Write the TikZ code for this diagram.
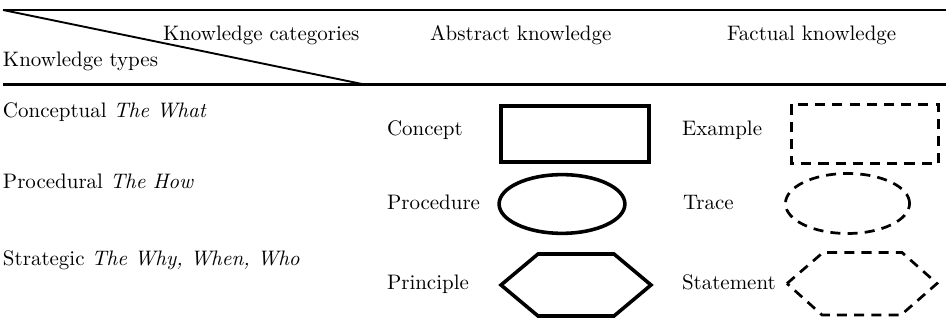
\documentclass[tikz,border=0pt]{standalone}
\begin{document}
\begin{tikzpicture}[x=0.4769pt,y=-0.4769pt,
  rulerline/.style={line width=1pt},
  diagline/.style={line width=0.9pt},
  lbl/.style={anchor=base west, inner sep=0pt, outer sep=0pt},
  abstractshape/.style={line width=1.7pt, line join=miter},
  factualshape/.style={line width=1.3pt, dash pattern=on 4.8pt off 3.4pt},
]
\useasboundingbox (0,0) rectangle (946,329);

% table rules and the split header cell
\coordinate (topL) at (3,10);
\coordinate (topR) at (946,10);
\coordinate (midL) at (3,84.5);
\coordinate (midR) at (946,84.5);
\coordinate (diagEnd) at (362,84);
\draw[rulerline] (topL) -- (topR);
\draw[rulerline] (midL) -- (midR);
\draw[diagline] (topL) -- (diagEnd);

% header texts
\node[lbl] (cats)  at (163,41) {Knowledge categories};
\node[lbl] (types) at (3,67)   {Knowledge types};
\node[lbl] (abs)   at (430,41) {Abstract knowledge};
\node[lbl] (fact)  at (727,41) {Factual knowledge};

% row headings
\node[lbl] (rowC) at (3,118) {Conceptual \textit{The What}};
\node[lbl] (rowP) at (3,189) {Procedural \textit{The How}};
\node[lbl] (rowS) at (3,266) {Strategic \textit{The Why, When, Who}};

% abstract knowledge column
\node[lbl] (concept)   at (387,136) {Concept};
\node[lbl] (procedure) at (387,210) {Procedure};
\node[lbl] (principle) at (387,290) {Principle};
\draw[abstractshape] (501,106) rectangle (649,162);
\draw[abstractshape] (562,204) ellipse [x radius=30.0pt, y radius=14.0pt];
\draw[abstractshape] (501,285) -- (538,254) -- (614,254) -- (651,285)
  -- (614,316) -- (538,316) -- cycle;

% factual knowledge column
\node[lbl] (example)   at (682,136) {Example};
\node[lbl] (trace)     at (683,210) {Trace};
\node[lbl] (statement) at (682,290) {Statement};
\draw[factualshape] (791.5,104.5) rectangle (938.5,163.5);
\draw[factualshape] (847.5,203.5) ellipse [x radius=29.6pt, y radius=14.3pt];
\draw[factualshape] (787,283.5) -- (823,252.5) -- (902,252.5) -- (937,283.5)
  -- (901,315) -- (822,315) -- cycle;
\end{tikzpicture}
\end{document}
